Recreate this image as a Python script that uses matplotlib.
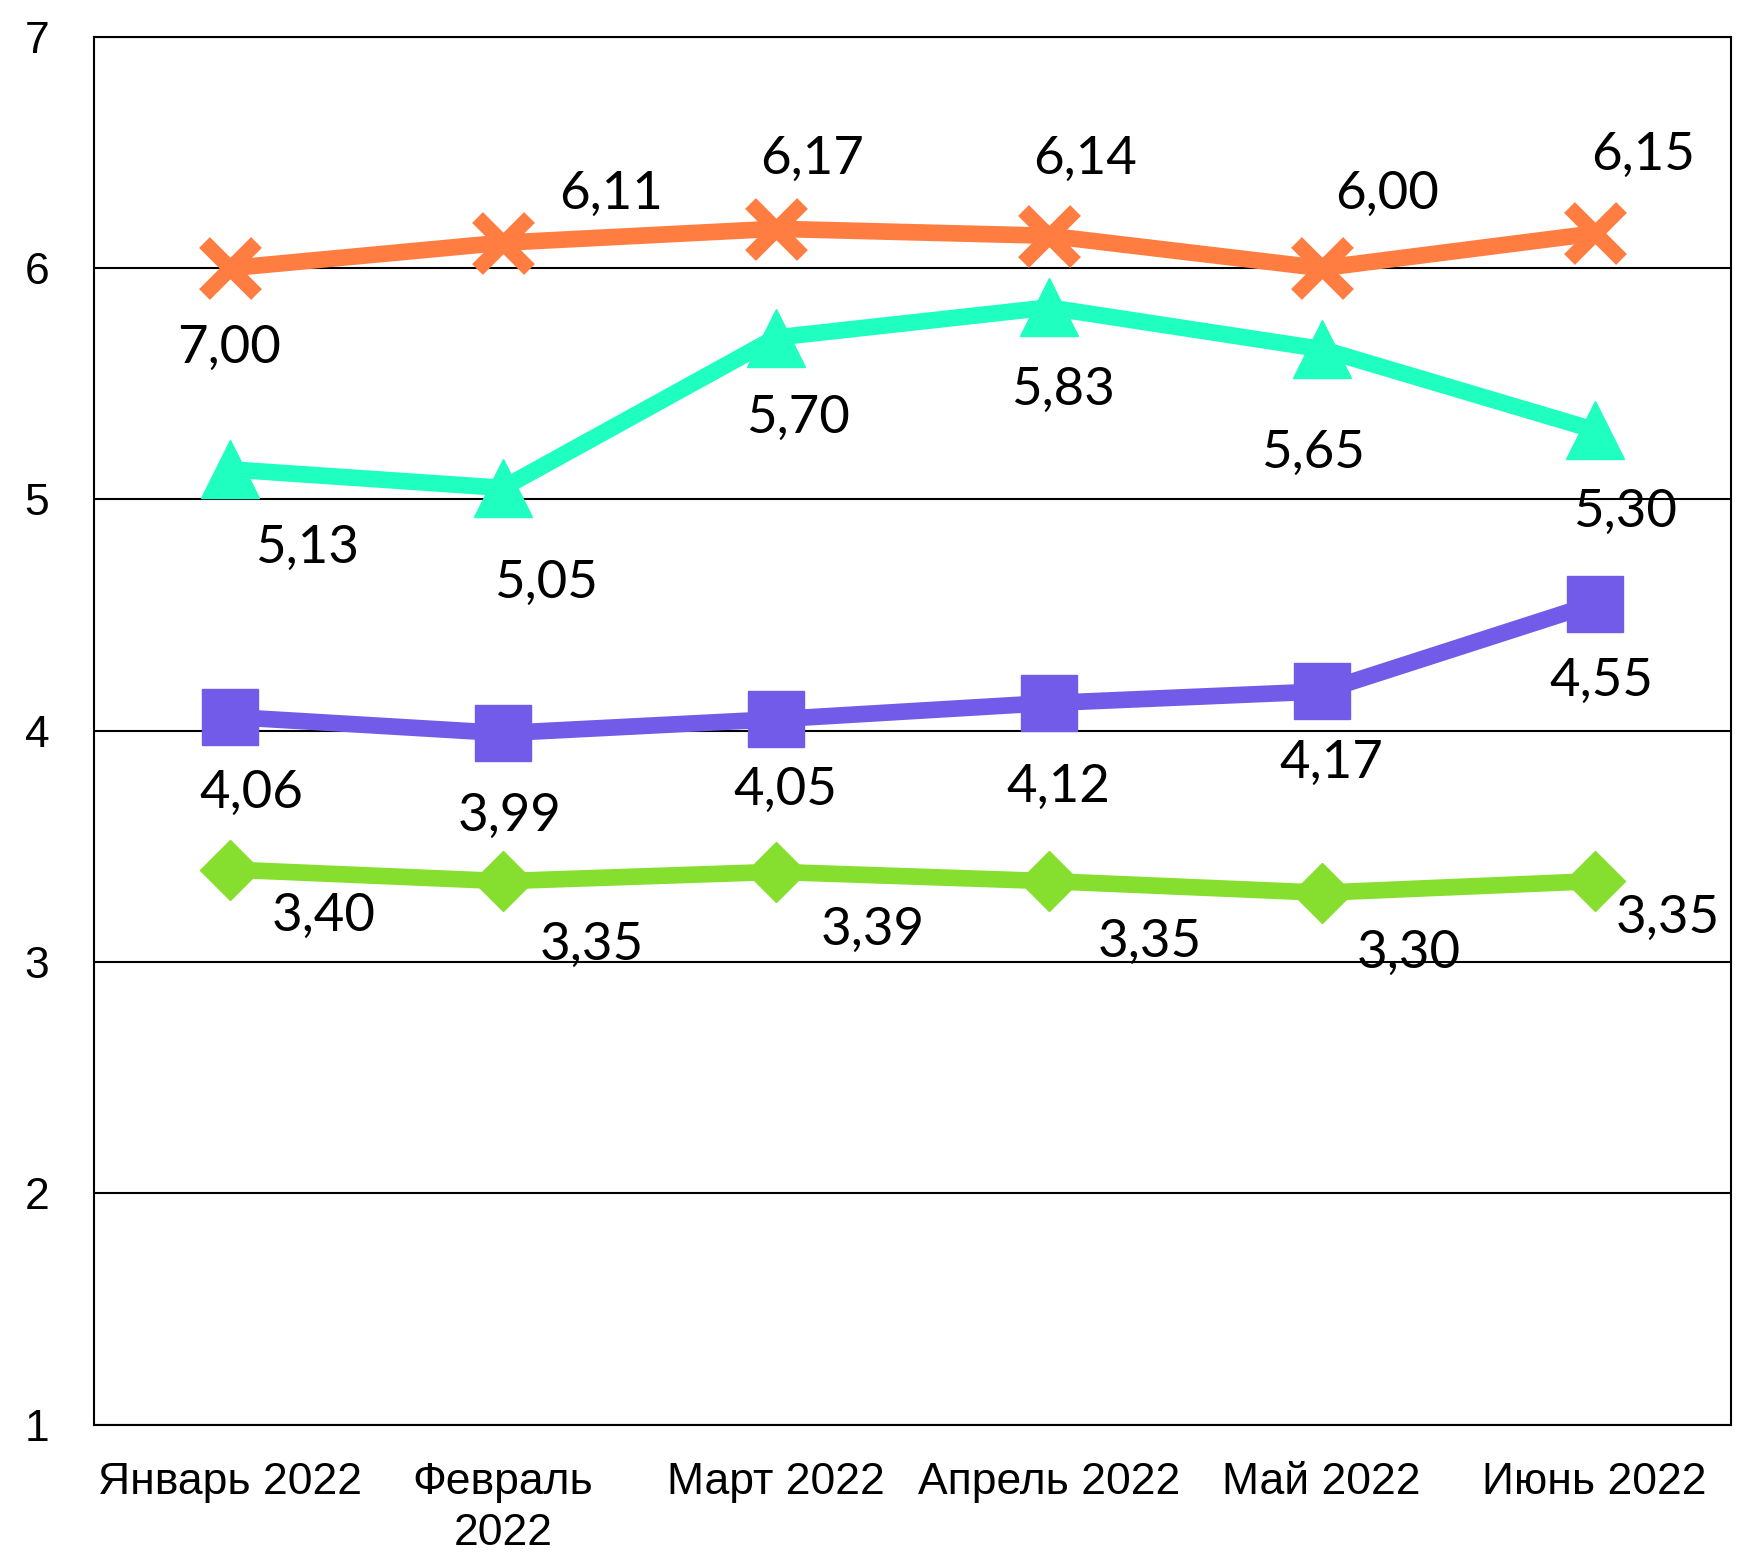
import matplotlib.pyplot as plt

# Data
months = ['Январь 2022', 'Февраль\n2022', 'Март 2022', 'Апрель 2022', 'Май 2022', 'Июнь 2022']

orange_vals = [6.00, 6.11, 6.17, 6.14, 6.00, 6.15]
orange_labels = ['7,00', '6,11', '6,17', '6,14', '6,00', '6,15']
teal_vals = [5.13, 5.05, 5.70, 5.83, 5.65, 5.30]
purple_vals = [4.06, 3.99, 4.05, 4.12, 4.17, 4.55]
green_vals = [3.40, 3.35, 3.39, 3.35, 3.30, 3.35]

# label offsets in points (dx, dy)
orange_off = [(-1, -58), (78, 35), (26, 50), (26, 55), (47, 53), (35, 56)]
teal_off = [(55, -57), (31, -69), (16, -58), (10, -60), (-6, -75), (22, -59)]
purple_off = [(15, -55), (5, -60), (7, -51), (7, -61), (7, -52), (5, -56)]
green_off = [(67, -34), (64, -46), (70, -42), (73, -44), (63, -44), (53, -27)]

tick_font = 'Liberation Sans'
label_font = 'Lato'

fig = plt.figure(figsize=(17.48, 15.66), dpi=100)
ax = fig.add_axes([0.0536, 0.0902, 0.9367, 0.8863])

x = list(range(len(months)))
lw = 12

ax.plot(x, green_vals, color='#86DF2F', lw=lw, marker='D', ms=31, zorder=3)
ax.plot(x, purple_vals, color='#725BE8', lw=lw, marker='s', ms=41, zorder=3)
ax.plot(x, teal_vals, color='#1FFFBF', lw=lw, marker='^', ms=42, zorder=3)
ax.plot(x, orange_vals, color='#FF7D40', lw=lw, marker='x', ms=37, mew=11, zorder=3)


def fmt(v):
    return f'{v:.2f}'.replace('.', ',')


series = [
    (orange_vals, orange_labels, orange_off),
    (teal_vals, [fmt(v) for v in teal_vals], teal_off),
    (purple_vals, [fmt(v) for v in purple_vals], purple_off),
    (green_vals, [fmt(v) for v in green_vals], green_off),
]
for vals, labs, offs in series:
    for i, (v, t, o) in enumerate(zip(vals, labs, offs)):
        ax.annotate(t, (i, v), xytext=o, textcoords='offset points',
                    ha='center', va='center', fontsize=38, family=label_font,
                    color='black', zorder=4)

ax.set_xlim(-0.5, 5.5)
ax.set_ylim(1, 7)
ax.set_yticks(range(1, 8))
ax.set_xticks(x)
ax.set_xticklabels(months, family=tick_font, fontsize=32, linespacing=1.3)
ax.set_yticklabels([str(i) for i in range(1, 8)], family=tick_font, fontsize=32)
ax.tick_params(axis='both', length=0)
ax.tick_params(axis='y', pad=32)
ax.tick_params(axis='x', pad=27)

ax.grid(axis='y', color='black', lw=1.5, zorder=1)
for s in ax.spines.values():
    s.set_color('black')
    s.set_linewidth(1.5)

fig.savefig('out.png', dpi=100)
